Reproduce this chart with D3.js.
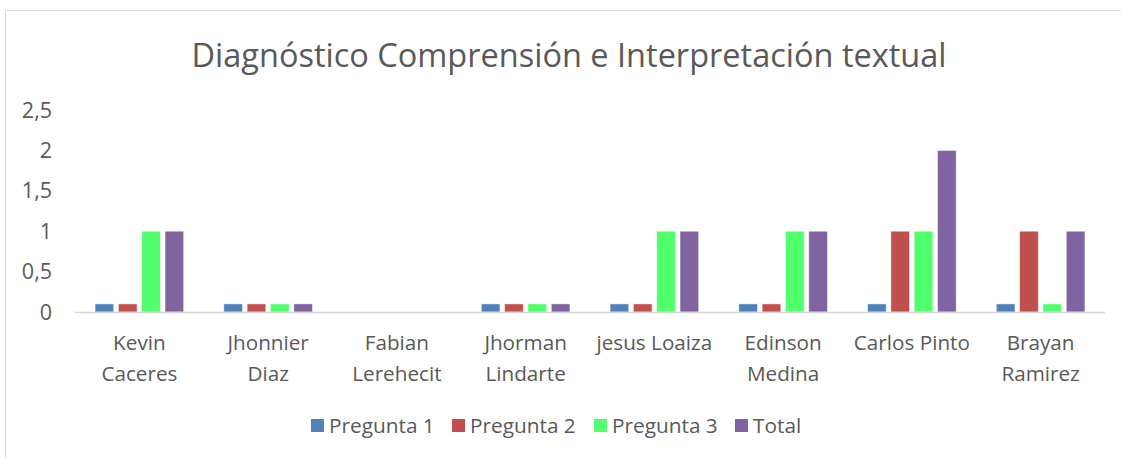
<!DOCTYPE html>
<html>
<head>
<meta charset="utf-8">
<script src="https://cdn.jsdelivr.net/npm/d3@7"></script>
<style>
  body { margin: 0; background: #fff; }
  svg { font-family: 'Open Sans', sans-serif; }
</style>
</head>
<body>
<svg id="chart" width="1121" height="458"></svg>
<script>
const categories = [
  ['Kevin', 'Caceres'],
  ['Jhonnier', 'Diaz'],
  ['Fabian', 'Lerehecit'],
  ['Jhorman', 'Lindarte'],
  ['jesus Loaiza'],
  ['Edinson', 'Medina'],
  ['Carlos Pinto'],
  ['Brayan', 'Ramirez']
];
const seriesNames = ['Pregunta 1', 'Pregunta 2', 'Pregunta 3', 'Total'];
const pregunta1 = [0.1, 0.1, 0, 0.1, 0.1, 0.1, 0.1, 0.1];
const pregunta2 = [0.1, 0.1, 0, 0.1, 0.1, 0.1, 1, 1];
const pregunta3 = [1, 0.1, 0, 0.1, 1, 1, 1, 0.1];
const total = [1, 0.1, 0, 0.1, 1, 1, 2, 1];
const yTicks = [0, 0.5, 1, 1.5, 2, 2.5];
const colors = ['#4F81BD', '#C0504D', '#50FF6B', '#8064A2'];

const series = [pregunta1, pregunta2, pregunta3, total];
const svg = d3.select('#chart');

// chart frame (only top/left visible in the crop)
svg.append('line').attr('x1', 5.5).attr('x2', 1121).attr('y1', 10.5).attr('y2', 10.5)
  .attr('stroke', '#d9d9d9');
svg.append('line').attr('x1', 5.5).attr('x2', 5.5).attr('y1', 10.5).attr('y2', 458)
  .attr('stroke', '#d9d9d9');

svg.append('text')
  .attr('x', 569).attr('y', 67)
  .attr('text-anchor', 'middle')
  .attr('fill', '#595959')
  .style('font-size', '32.5px')
  .text('Diagnóstico Comprensión e Interpretación textual');

const x0 = d3.scaleBand().domain(d3.range(categories.length)).range([75, 1105]);
const x1 = d3.scaleBand().domain(d3.range(series.length))
  .range([0, x0.bandwidth()]).paddingInner(0.2).paddingOuter(0.86);
const y = d3.scaleLinear().domain([0, 2.5]).range([312, 110]);

const fmt = v => String(v).replace('.', ',');
svg.append('g').selectAll('text').data(yTicks).join('text')
  .attr('x', 52).attr('y', d => y(d))
  .attr('dy', '0.35em')
  .attr('text-anchor', 'end')
  .attr('fill', '#595959')
  .style('font-size', '21.5px')
  .text(fmt);

const groups = svg.append('g').selectAll('g').data(categories).join('g')
  .attr('transform', (d, i) => `translate(${x0(i)},0)`);

groups.selectAll('rect')
  .data((d, i) => series.map((s, j) => ({ j, v: s[i] })))
  .join('rect')
  .filter(d => d.v > 0)
  .attr('x', d => x1(d.j))
  .attr('width', x1.bandwidth())
  .attr('y', d => y(d.v))
  .attr('height', d => y(0) - y(d.v))
  .attr('fill', d => colors[d.j])
  .attr('stroke', '#fff')
  .attr('stroke-opacity', 0.6)
  .attr('stroke-width', 0.8);

svg.append('line')
  .attr('x1', 75).attr('x2', 1105)
  .attr('y1', y(0) + 0.5).attr('y2', y(0) + 0.5)
  .attr('stroke', '#d9d9d9').attr('stroke-width', 1.5);

groups.append('text')
  .attr('x', x0.bandwidth() / 2)
  .attr('y', 350)
  .attr('text-anchor', 'middle')
  .attr('fill', '#595959')
  .style('font-size', '20.7px')
  .selectAll('tspan').data(d => d).join('tspan')
  .attr('x', x0.bandwidth() / 2)
  .attr('dy', (d, i) => i === 0 ? 0 : 31)
  .text(d => d);

const legendX = [311, 452, 594, 735];
const legend = svg.append('g').selectAll('g').data(seriesNames).join('g')
  .attr('transform', (d, i) => `translate(${legendX[i]},419)`);
legend.append('rect').attr('width', 13).attr('height', 13)
  .attr('fill', (d, i) => colors[i]);
legend.append('text').attr('x', 18).attr('y', 6.5).attr('dy', '0.35em')
  .attr('fill', '#595959')
  .style('font-size', '20.8px')
  .text(d => d);
</script>
</body>
</html>
